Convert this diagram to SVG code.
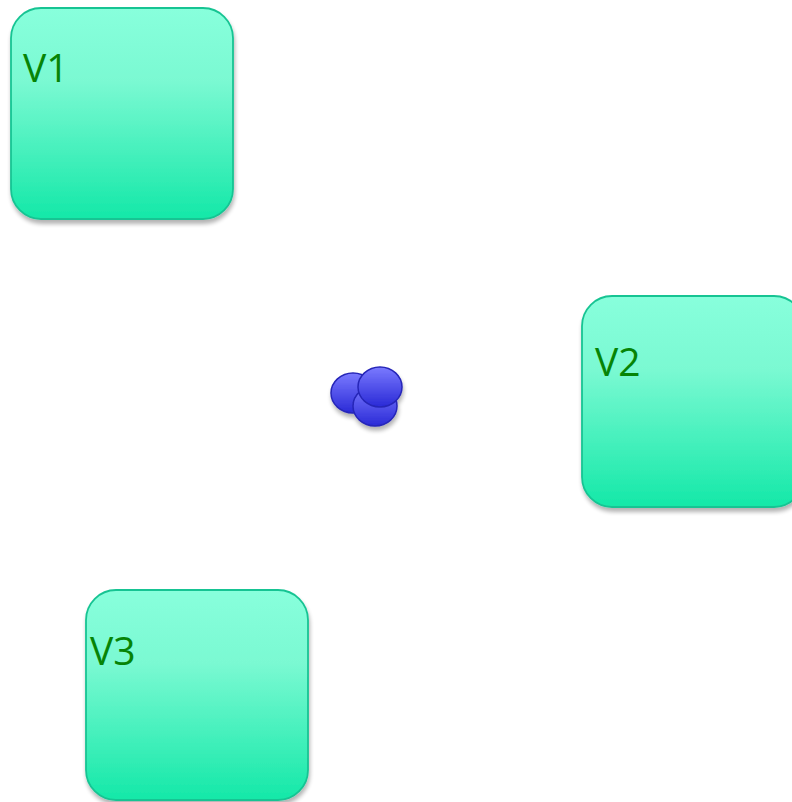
<svg xmlns="http://www.w3.org/2000/svg" width="792" height="802" viewBox="0 0 792 802">
  <defs>
    <linearGradient id="boxFill" x1="0" y1="0" x2="0" y2="1">
      <stop offset="0" stop-color="#88ffdc"/>
      <stop offset="0.35" stop-color="#7af9d2"/>
      <stop offset="1" stop-color="#14e8a8"/>
    </linearGradient>
    <linearGradient id="ballFill" x1="0" y1="0" x2="0" y2="1">
      <stop offset="0" stop-color="#7a7aff"/>
      <stop offset="1" stop-color="#2a2ad6"/>
    </linearGradient>
    <filter id="shadow" x="-10%" y="-10%" width="125%" height="125%">
      <feGaussianBlur in="SourceAlpha" stdDeviation="2"/>
      <feOffset dx="1" dy="4" result="blur"/>
      <feComponentTransfer><feFuncA type="linear" slope="0.3"/></feComponentTransfer>
      <feMerge><feMergeNode/><feMergeNode in="SourceGraphic"/></feMerge>
    </filter>
  </defs>
  <style>
    .box { fill: url(#boxFill); stroke: #18c493; stroke-width: 1.8; filter: url(#shadow); }
    .label { font-family: "Open Sans", "Noto Sans", sans-serif; font-size: 39px; fill: #068406; }
    .ball { fill: url(#ballFill); stroke: #2626b8; stroke-width: 1.5; }
  </style>
  <rect width="792" height="802" fill="#ffffff"/>

  <g id="V1">
    <rect class="box" x="11" y="8" width="222" height="211" rx="30" ry="30"/>
    <text class="label" x="23" y="82">V1</text>
  </g>

  <g id="V2">
    <rect class="box" x="582" y="296" width="222" height="211" rx="30" ry="30"/>
    <text class="label" x="595" y="376">V2</text>
  </g>

  <g id="V3">
    <rect class="box" x="86" y="590" width="222" height="210" rx="30" ry="30"/>
    <text class="label" x="90" y="665">V3</text>
  </g>

  <g id="cluster" filter="url(#shadow)">
    <ellipse class="ball" cx="353" cy="393" rx="22" ry="20"/>
    <ellipse class="ball" cx="375" cy="406" rx="22" ry="20"/>
    <ellipse class="ball" cx="380" cy="387" rx="22" ry="20"/>
  </g>

  <g id="connectors"/>
</svg>
